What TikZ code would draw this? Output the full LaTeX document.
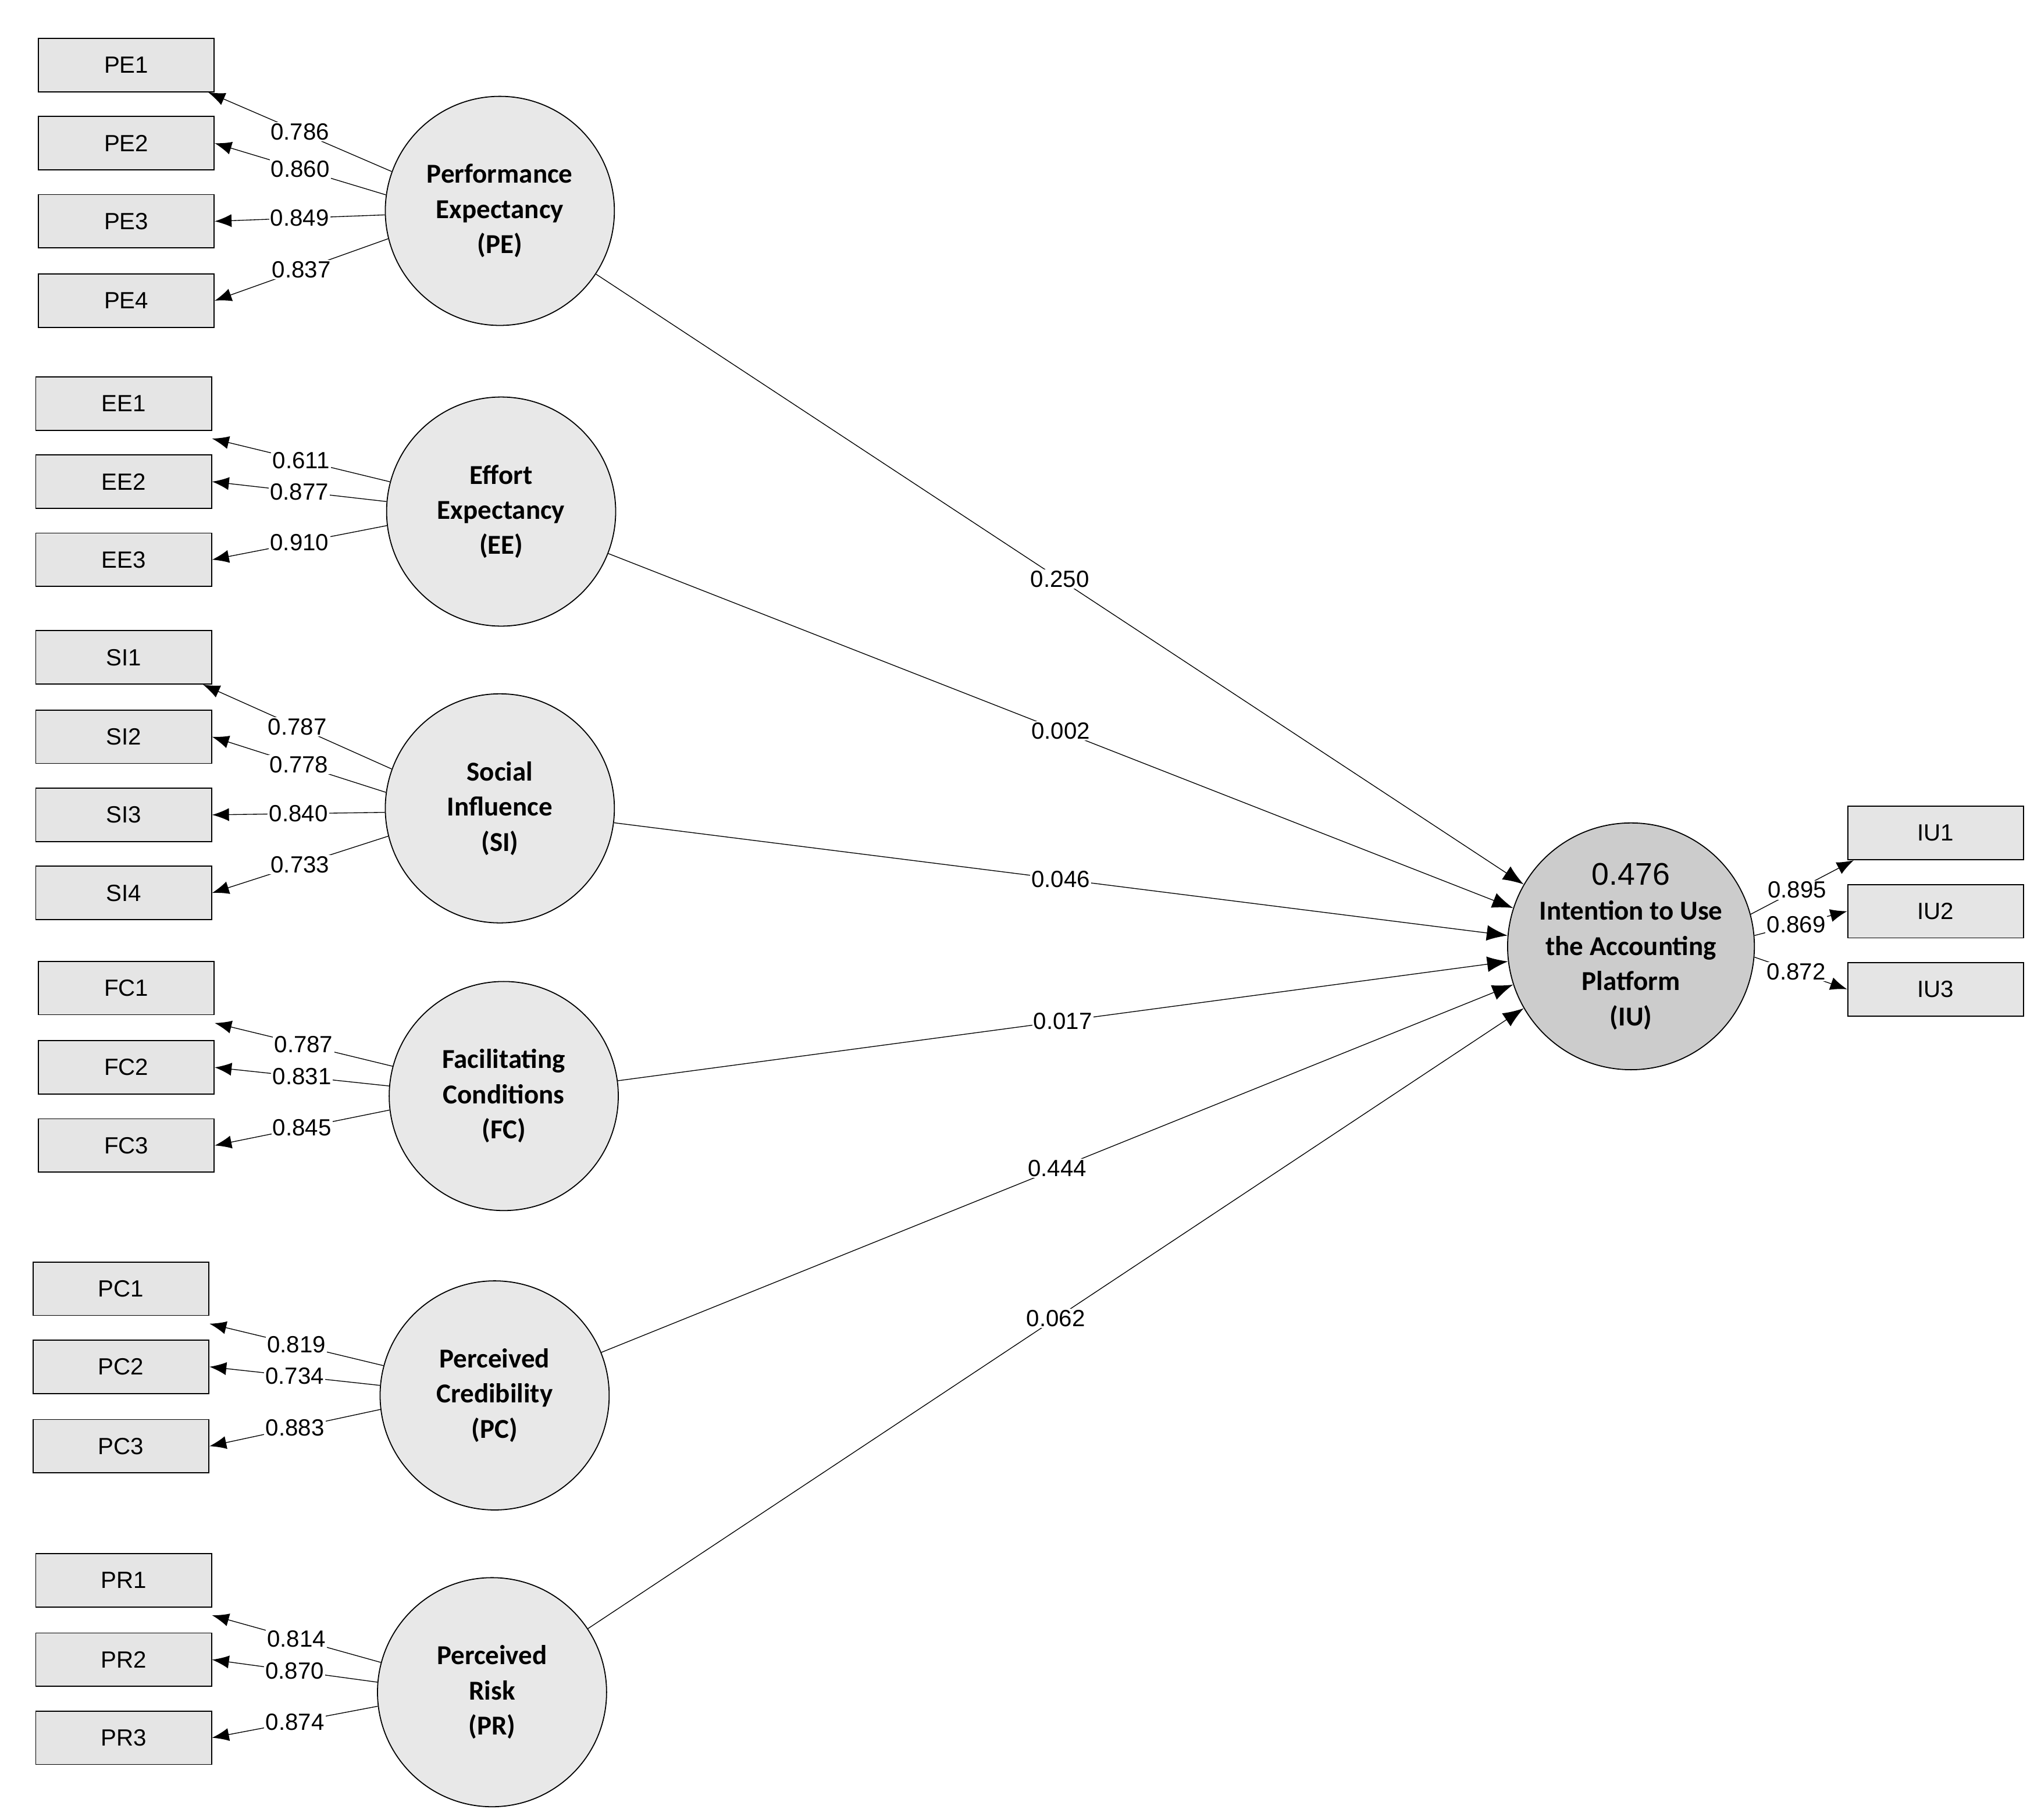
\documentclass[tikz,border=0pt]{standalone}
\usepackage{fontspec}
\setmainfont{Liberation Sans}
\newfontfamily\carlitofont{Carlito}
\usetikzlibrary{arrows.meta}
\begin{document}
\begin{tikzpicture}[x=1pt,y=-1pt,
 ind/.style={draw,thick,fill=gray!20,minimum width=135pt,minimum height=41pt,inner sep=0,font=\fontsize{18}{20}\selectfont},
 lat/.style={draw,thick,circle,fill=gray!18,minimum size=176pt,inner sep=0,align=center,font=\carlitofont\bfseries\fontsize{21}{27}\selectfont},
 ld/.style={-{Latex[length=13pt,width=10pt]},semithick},
 lb/.style={fill=white,inner sep=1pt,font=\fontsize{18}{20}\selectfont},
 pth/.style={-{Latex[length=16pt,width=12pt]},semithick}]
\useasboundingbox (0,0) rectangle (1568,1398);
% latent
\node[lat] (PE) at (384,162) {Performance\\Expectancy\\(PE)};
\node[lat] (EE) at (385,393) {Effort\\Expectancy\\(EE)};
\node[lat] (SI) at (384,621) {Social\\Influence\\(SI)};
\node[lat] (FC) at (387,842) {Facilitating\\Conditions\\(FC)};
\node[lat] (PC) at (380,1072) {Perceived\\Credibility\\(PC)};
\node[lat] (PR) at (378,1300) {Perceived\\Risk\\(PR)};
\node[lat,fill=gray!40] (IU) at (1253,727) {{\normalfont\fontsize{24}{24}\selectfont 0.476}\\Intention to Use\\the Accounting\\Platform\\(IU)};
% indicators
\foreach \n/\y in {1/50,2/110,3/170,4/231}{\node[ind] (PE\n) at (97,\y) {PE\n};}
\foreach \n/\y in {1/310,2/370,3/430}{\node[ind] (EE\n) at (95,\y) {EE\n};}
\foreach \n/\y in {1/505,2/566,3/626,4/686}{\node[ind] (SI\n) at (95,\y) {SI\n};}
\foreach \n/\y in {1/759,2/820,3/880}{\node[ind] (FC\n) at (97,\y) {FC\n};}
\foreach \n/\y in {1/990,2/1050,3/1111}{\node[ind] (PC\n) at (93,\y) {PC\n};}
\foreach \n/\y in {1/1214,2/1275,3/1335}{\node[ind] (PR\n) at (95,\y) {PR\n};}
\foreach \n/\y in {1/640,2/700,3/760}{\node[ind] (IU\n) at (1487,\y) {IU\n};}
% loadings
\draw[ld] (PE.160) -- node[lb]{0.786} ([xshift=-5pt]PE1.south east);
\draw[ld] (PE.172) -- node[lb]{0.860} (PE2.east);
\draw[ld] (PE.182) -- node[lb]{0.849} (PE3.east);
\draw[ld] (PE.194) -- node[lb]{0.837} (PE4.east);
\draw[ld] (EE.165) -- node[lb]{0.611} ([yshift=-6pt]EE1.south east);
\draw[ld] (EE.175) -- node[lb]{0.877} (EE2.east);
\draw[ld] (EE.187) -- node[lb]{0.910} (EE3.east);
\draw[ld] (SI.160) -- node[lb]{0.787} ([xshift=-7pt]SI1.south east);
\draw[ld] (SI.172) -- node[lb]{0.778} (SI2.east);
\draw[ld] (SI.182) -- node[lb]{0.840} (SI3.east);
\draw[ld] (SI.194) -- node[lb]{0.733} (SI4.east);
\draw[ld] (FC.165) -- node[lb]{0.787} ([yshift=-6pt]FC1.south east);
\draw[ld] (FC.175) -- node[lb]{0.831} (FC2.east);
\draw[ld] (FC.187) -- node[lb]{0.845} (FC3.east);
\draw[ld] (PC.165) -- node[lb]{0.819} ([yshift=-6pt]PC1.south east);
\draw[ld] (PC.175) -- node[lb]{0.734} (PC2.east);
\draw[ld] (PC.187) -- node[lb]{0.883} (PC3.east);
\draw[ld] (PR.165) -- node[lb]{0.814} ([yshift=-6pt]PR1.south east);
\draw[ld] (PR.175) -- node[lb]{0.870} (PR2.east);
\draw[ld] (PR.187) -- node[lb]{0.874} (PR3.east);
\draw[ld] (IU.15) -- node[lb,pos=0.45]{0.895} ([xshift=5pt]IU1.south west);
\draw[ld] (IU.5) -- node[lb,pos=0.45]{0.869} (IU2.west);
\draw[ld] (IU.-5) -- node[lb,pos=0.45]{0.872} (IU3.west);
% paths
\draw[pth] (PE) -- node[lb,pos=0.5]{0.250} (IU.150);
\draw[pth] (EE) -- node[lb,pos=0.5]{0.002} (IU.162);
\draw[pth] (SI) -- node[lb,pos=0.5]{0.046} (IU.175);
\draw[pth] (FC) -- node[lb,pos=0.5]{0.017} (IU.187);
\draw[pth] (PC) -- node[lb,pos=0.5]{0.444} (IU.198);
\draw[pth] (PR) -- node[lb,pos=0.5]{0.062} (IU.210);
\end{tikzpicture}
\end{document}
